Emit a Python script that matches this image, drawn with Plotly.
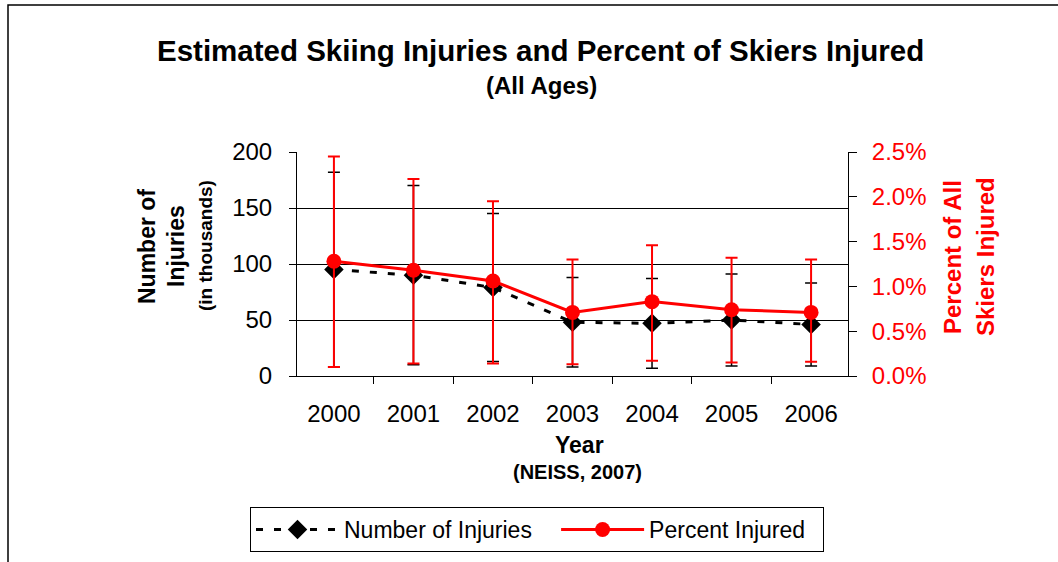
import plotly.graph_objects as go

# chart data
years = ['2000', '2001', '2002', '2003', '2004', '2005', '2006']
injuries = [95, 90, 79, 48, 47, 50, 46]            # thousands
injuries_err = [87, 80, 66, 40, 40, 41, 37]
pct_injured = [1.28, 1.18, 1.06, 0.71, 0.83, 0.74, 0.71]   # percent
pct_err_up = [1.17, 1.02, 0.89, 0.59, 0.63, 0.58, 0.59]
pct_err_down = [1.18, 1.04, 0.92, 0.58, 0.66, 0.59, 0.55]

FONT = 'Liberation Sans, Arial, sans-serif'
RED = '#ff0000'
NBSP = '\u00a0'

# plot area in px, used to place the text around it
W, H = 1058, 562
L, R, T, B = 297, 210, 152, 186
pw, ph = W - L - R, H - T - B


def px(x):
    return (x - L) / pw


def py(y):
    return (H - B - y) / ph


fig = go.Figure()

# trailing nbsp only widen the legend entries (no visible change to the text)
fig.add_trace(go.Scatter(
    x=years, y=injuries, name='Number of Injuries' + NBSP * 3, mode='lines+markers',
    line=dict(color='black', width=3, dash='7px,11px'),
    marker=dict(symbol='diamond', size=15, color='black'),
    error_y=dict(type='data', array=injuries_err, color='black', thickness=1.5, width=6),
))
fig.add_trace(go.Scatter(
    x=years, y=[p / 100 for p in pct_injured], name='Percent Injured' + NBSP * 2,
    mode='lines+markers', yaxis='y2',
    line=dict(color=RED, width=3),
    marker=dict(symbol='circle', size=15, color=RED),
    error_y=dict(type='data', array=[e / 100 for e in pct_err_up],
                 arrayminus=[e / 100 for e in pct_err_down],
                 color=RED, thickness=2, width=6),
))

fig.update_layout(
    width=W, height=H,
    margin=dict(l=L, r=R, t=T, b=B, pad=0, autoexpand=False),
    paper_bgcolor='white', plot_bgcolor='white',
    font=dict(family=FONT, color='black', size=24),
    showlegend=True,
    legend=dict(orientation='h', x=px(250), xanchor='left', y=py(507), yanchor='top',
                bordercolor='black', borderwidth=1, font=dict(size=23),
                itemwidth=83, traceorder='normal'),
    xaxis=dict(type='category', tickson='boundaries', ticks='outside', ticklen=7,
               tickcolor='black', showline=True, linecolor='black', linewidth=1,
               showgrid=False, ticklabelstandoff=16, tickfont=dict(size=24)),
    yaxis=dict(range=[0, 200], dtick=50, ticks='outside', ticklen=7, tickcolor='black',
               showline=True, linecolor='black', linewidth=1,
               showgrid=True, gridcolor='black', gridwidth=1, zeroline=False,
               ticklabelstandoff=12, tickfont=dict(size=24)),
    yaxis2=dict(range=[0, 0.025], dtick=0.005, tickformat='.1%', overlaying='y', side='right',
                ticks='outside', ticklen=8, tickcolor='black',
                showline=True, linecolor='black', linewidth=1, showgrid=False, zeroline=False,
                ticklabelstandoff=10, tickfont=dict(size=24, color=RED)),
)

annotations = [
    dict(text='<b>Estimated Skiing Injuries and Percent of Skiers Injured</b>',
         x=px(540), y=py(50), font=dict(size=29.5)),
    dict(text='<b>(All Ages)</b>', x=px(541), y=py(85), font=dict(size=24)),
    dict(text='<b>Number of</b>', x=px(147), y=py(247), textangle=-90, font=dict(size=23)),
    dict(text='<b>Injuries</b>', x=px(176), y=py(246), textangle=-90, font=dict(size=23)),
    dict(text='<b>(in thousands)</b>', x=px(205), y=py(246), textangle=-90, font=dict(size=19)),
    dict(text='<b>Percent of All</b>', x=px(952), y=py(257), textangle=-90,
         font=dict(size=24, color=RED)),
    dict(text='<b>Skiers Injured</b>', x=px(985), y=py(257), textangle=-90,
         font=dict(size=24, color=RED)),
    dict(text='<b>Year</b>', x=px(579), y=py(445), font=dict(size=23)),
    dict(text='<b>(NEISS, 2007)</b>', x=px(577), y=py(472), font=dict(size=20)),
]
for a in annotations:
    fig.add_annotation(xref='paper', yref='paper', showarrow=False,
                       xanchor='center', yanchor='middle', **a)

# outer chart border (only left and top edges are inside the picture)
fig.add_shape(type='rect', xref='paper', yref='paper',
              x0=px(8), y0=py(5), x1=px(1070), y1=py(580),
              line=dict(color='black', width=1.5), layer='below')

fig.write_html("out.html", config={'displayModeBar': False},
               post_script="document.body.style.margin = '0';")
